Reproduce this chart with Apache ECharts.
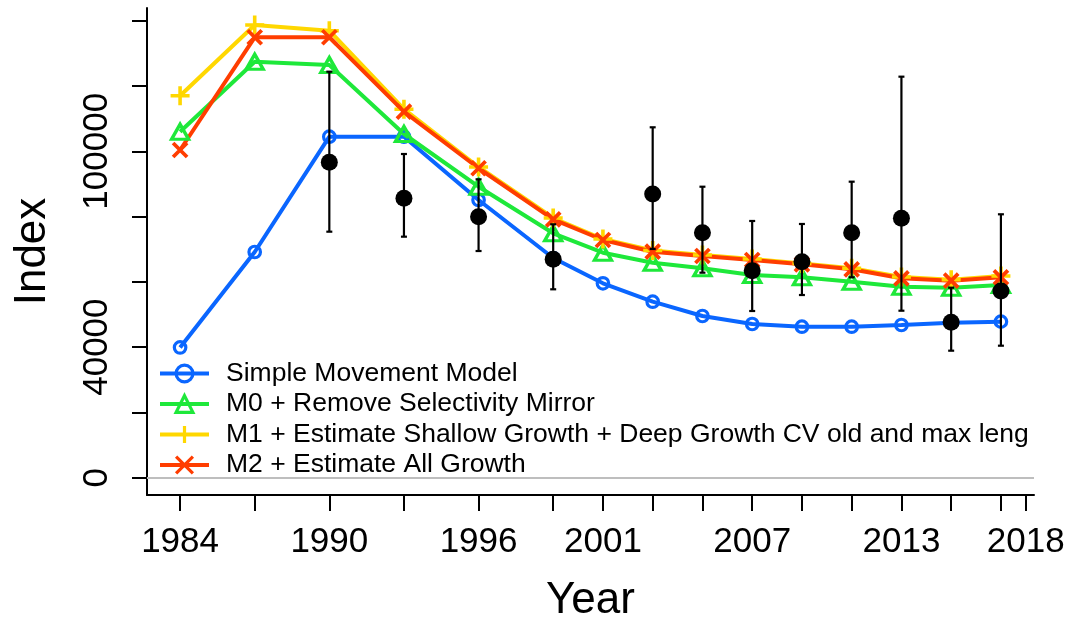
<!DOCTYPE html>
<html>
<head>
<meta charset="utf-8">
<script src="https://cdn.jsdelivr.net/npm/echarts@6/dist/echarts.min.js"></script>
<style>
html,body{margin:0;padding:0;background:#fff;}
#chart{width:1071px;height:621px;}
</style>
</head>
<body>
<div id="chart"></div>
<script>
var years = [1984,1987,1990,1993,1996,1999,2001,2003,2005,2007,2009,2011,2013,2015,2017];
var simpleModel = [39900,69150,104470,104470,85080,67300,59560,53920,49540,47090,46260,46260,46780,47490,47800];
var m0 = [106000,127450,126440,105300,89150,74870,68930,65870,64150,62100,61400,60050,58520,58210,59040];
var m1 = [117030,138700,136950,112900,95200,79560,73130,69600,68230,67000,65630,64150,61490,60660,61800];
var m2 = [100400,134930,134930,112130,94800,79170,72820,69240,67920,66700,65380,63850,61090,60360,61400];

var obsYears = [1990,1993,1996,1999,2003,2005,2007,2009,2011,2013,2015,2017];
var obsValue = [96630,85600,79960,66910,86920,75060,63420,66180,75060,79470,47610,57200];
var obsLow   = [75370,73840,69450,57720,70070,62810,51070,55970,61400,51160,38910,40440];
var obsHigh  = [124390,99170,91420,77630,107350,89150,78650,77730,90690,122860,58210,80700];

var xTickValues = [1984,1987,1990,1993,1996,1999,2001,2003,2005,2007,2009,2011,2013,2015,2017,2018];
var xLabelValues = [1984,1990,1996,2001,2007,2013,2018];
var yTickValues = [0,20000,40000,60000,80000,100000,120000,140000];
var yLabelValues = [0,40000,100000];

var seriesNames = [
  'Simple Movement Model',
  'M0 + Remove Selectivity Mirror',
  'M1 + Estimate Shallow Growth + Deep Growth CV old and max length',
  'M2 + Estimate All Growth'
];

function pairs(xs, ys){ return xs.map(function(x,i){ return [x, ys[i]]; }); }

var FONT = 'Liberation Sans, Arial, sans-serif';
var chart = echarts.init(document.getElementById('chart'), null, {renderer:'canvas'});

function lineSeries(name, vals, color, symbol, size, bw){
  return {
    name: name, type: 'line', data: pairs(years, vals),
    symbol: symbol, symbolSize: size, showSymbol: true,
    lineStyle: {color: color, width: 4},
    itemStyle: {color: 'rgba(0,0,0,0)', borderColor: color, borderWidth: bw, opacity: 1},
    emphasis: {disabled: true},
    z: 2
  };
}

var s0 = lineSeries(seriesNames[0], simpleModel, '#0A66FF', 'circle', 11.5, 3.2);
s0.markLine = {
  silent: true, symbol: ['none','none'], label: {show:false},
  lineStyle: {color:'#BEBEBE', width: 2, type:'solid'},
  data: [{yAxis: 0}], z: 1
};

var option = {
  animation: false,
  backgroundColor: '#ffffff',
  textStyle: {fontFamily: FONT},
  grid: {left:147, right:37, top:8, bottom:126, containLabel:false, outerBoundsMode:'none'},
  legend: {
    orient: 'vertical', left: 153, top: 355,
    itemWidth: 49, itemHeight: 21, itemGap: 3.5,
    data: seriesNames,
    lineStyle: {width: 4},
    itemStyle: {borderWidth: 3.2},
    textStyle: {
      fontFamily: FONT, fontSize: 26.5, color: '#000', lineHeight: 27,
      padding: [0,0,0,12], width: 808, overflow: 'truncate', ellipsis: ''
    },
    selectedMode: false
  },
  xAxis: {
    type: 'value', min: 1982.67, max: 2018.33,
    name: 'Year', nameLocation: 'middle', nameGap: 84,
    nameTextStyle: {fontFamily: FONT, fontSize: 44, color:'#000'},
    axisLine: {show:true, onZero:false, lineStyle:{color:'#000', width:2}},
    axisTick: {show:true, length:16, lineStyle:{color:'#000', width:2}, customValues: xTickValues},
    axisLabel: {show:true, margin: 30, fontFamily: FONT, fontSize: 35, color:'#000', customValues: xLabelValues,
      formatter: function(v){ return String(v); }},
    splitLine: {show:false}
  },
  yAxis: {
    type: 'value', min: -5300, max: 143900,
    name: 'Index', nameLocation: 'middle', nameGap: 92,
    nameTextStyle: {fontFamily: FONT, fontSize: 44, color:'#000'},
    axisLine: {show:true, onZero:false, lineStyle:{color:'#000', width:2}},
    axisTick: {show:true, length:15, lineStyle:{color:'#000', width:2}, customValues: yTickValues},
    axisLabel: {show:true, rotate: 90, margin: 32, fontFamily: FONT, fontSize: 35, color:'#000', customValues: yLabelValues,
      formatter: function(v){ return String(v); }},
    splitLine: {show:false}
  },
  series: [
    s0,
    lineSeries(seriesNames[1], m0, '#1EE83A', 'triangle', [17,15], 3.3),
    lineSeries(seriesNames[2], m1, '#FFD700', 'path://M0,5L10,5M5,0L5,10', 19, 3.6),
    lineSeries(seriesNames[3], m2, '#FF3D00', 'path://M0,0L10,10M0,10L10,0', 14, 3.8),
    {
      name: 'obsErr', type: 'custom', z: 5,
      data: obsYears.map(function(y,i){ return [y, obsLow[i], obsHigh[i]]; }),
      renderItem: function(params, api){
        var top = api.coord([api.value(0), api.value(2)]);
        var bot = api.coord([api.value(0), api.value(1)]);
        var st = {stroke:'#000', lineWidth:2.2};
        return {type:'group', children:[
          {type:'line', shape:{x1:top[0], y1:top[1], x2:bot[0], y2:bot[1]}, style:st},
          {type:'line', shape:{x1:top[0]-3, y1:top[1], x2:top[0]+3, y2:top[1]}, style:st},
          {type:'line', shape:{x1:bot[0]-3, y1:bot[1], x2:bot[0]+3, y2:bot[1]}, style:st}
        ]};
      }
    },
    {
      name: 'obs', type: 'scatter', z: 6,
      data: pairs(obsYears, obsValue),
      symbol: 'circle', symbolSize: 17,
      itemStyle: {color:'#000', opacity: 1},
      emphasis: {disabled: true}
    }
  ]
};
chart.setOption(option);
</script>
</body>
</html>
